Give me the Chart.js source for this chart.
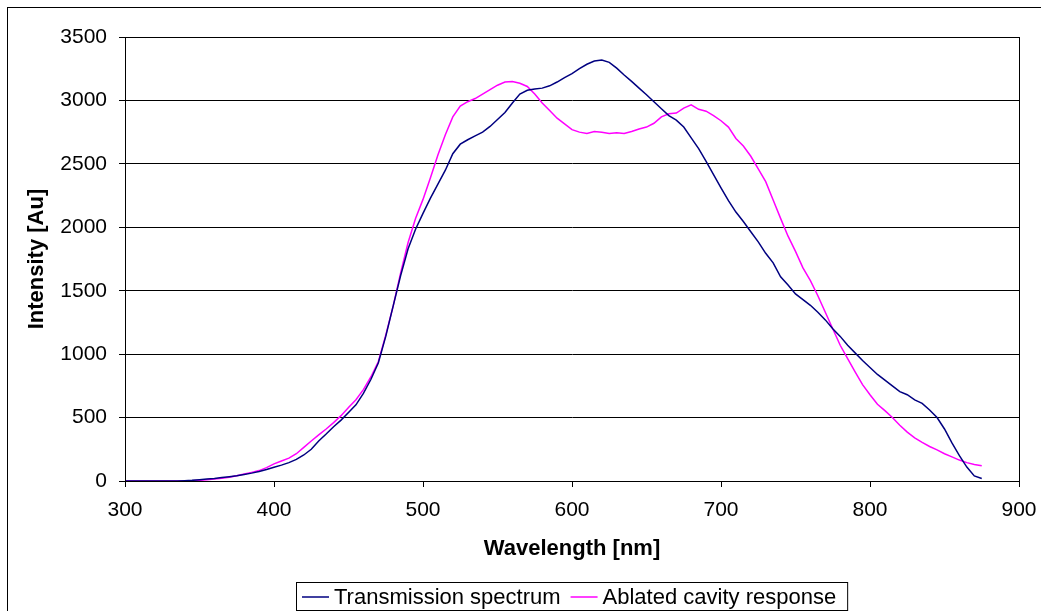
<!DOCTYPE html>
<html>
<head>
<meta charset="utf-8">
<script src="https://cdn.jsdelivr.net/npm/chart.js@4/dist/chart.umd.min.js"></script>
<style>
  html, body { margin: 0; padding: 0; background: #fff; }
  #wrap { width: 1041px; height: 611px; }
</style>
</head>
<body>
<div id="wrap"><canvas id="spectrum" width="1041" height="611"></canvas></div>
<script>
// Wavelength samples in nm
const wavelengths = [
  300,305,310,315,320,325,330,335,340,345,350,355,360,365,370,375,380,385,390,395,
  400,405,410,415,420,425,430,435,440,445,450,455,460,465,470,475,480,485,490,495,
  500,505,510,515,520,525,530,535,540,545,550,555,560,565,570,575,580,585,590,595,
  600,605,610,615,620,625,630,635,640,645,650,655,660,665,670,675,680,685,690,695,
  700,705,710,715,720,725,730,735,740,745,750,755,760,765,770,775,780,785,790,795,
  800,805,810,815,820,825,830,835,840,845,850,855,860,865,870,875
];

// Transmission spectrum intensity [Au]
const transmission = [
  0,0,0,0,0,0,0,0,2,5,10,15,20,27,34,42,52,62,75,90,
  108,125,145,170,205,250,315,370,428,480,540,600,690,800,930,1140,1380,1620,1830,1985,
  2110,2230,2340,2450,2580,2655,2690,2720,2750,2795,2850,2905,2980,3050,3080,3090,3097,3115,3145,3180,
  3212,3250,3285,3310,3318,3300,3255,3200,3150,3097,3045,2990,2935,2880,2845,2790,2705,2620,2520,2415,
  2310,2210,2120,2045,1965,1885,1795,1720,1610,1545,1475,1430,1385,1330,1270,1200,1140,1070,1010,950,
  895,840,795,750,705,680,640,612,560,500,410,300,200,110,40,20
];

// Ablated cavity response intensity [Au]
const ablated = [
  0,0,0,0,0,0,0,0,0,2,5,10,15,22,29,42,55,68,82,105,
  135,158,180,215,265,315,363,410,460,515,580,640,720,820,940,1150,1380,1640,1880,2070,
  2220,2390,2570,2730,2870,2955,2990,3015,3050,3085,3120,3145,3150,3135,3110,3050,2980,2920,2860,2815,
  2770,2750,2740,2755,2750,2740,2745,2740,2755,2775,2790,2820,2870,2895,2900,2940,2965,2930,2915,2880,
  2840,2790,2700,2640,2560,2460,2360,2215,2070,1930,1810,1680,1580,1460,1330,1200,1070,965,860,760,
  680,605,555,500,440,385,340,305,272,245,215,190,165,145,130,120
];

const xTicks = [300, 400, 500, 600, 700, 800, 900];
const yTicks = [0, 500, 1000, 1500, 2000, 2500, 3000, 3500];

const seriesNames = ['Transmission spectrum', 'Ablated cavity response'];
const seriesColors = ['#000080', '#FF00FF'];

const FONT = "'Liberation Sans', Arial, sans-serif";

function toPoints(xs, ys) {
  return xs.map((x, i) => ({ x: x, y: ys[i] }));
}

// White page, outer frame and plot-area frame
const framePlugin = {
  id: 'frame',
  beforeDraw(chart) {
    const ctx = chart.ctx;
    ctx.save();
    ctx.fillStyle = '#fff';
    ctx.fillRect(0, 0, chart.width, chart.height);
    ctx.restore();
  },
  afterDraw(chart) {
    const ctx = chart.ctx;
    const a = chart.chartArea;
    ctx.save();
    ctx.strokeStyle = '#000';
    ctx.lineWidth = 1;
    // outer chart border (runs off the right and bottom edges)
    ctx.strokeRect(7.5, 7.5, chart.width + 10, chart.height + 10);
    // plot area border
    ctx.strokeRect(Math.round(a.left) + 0.5, Math.round(a.top) + 0.5,
                   Math.round(a.right - a.left), Math.round(a.bottom - a.top));
    ctx.restore();
  }
};

// Boxed legend centred under the plot area
const boxLegendPlugin = {
  id: 'boxLegend',
  afterDraw(chart) {
    const ctx = chart.ctx;
    const a = chart.chartArea;
    ctx.save();
    ctx.font = '22px ' + FONT;
    const sample = 27;
    const items = chart.data.datasets.map(ds => ({
      label: ds.label, color: ds.borderColor, w: ctx.measureText(ds.label).width
    }));
    const padL = 6, gapLine = 5, gapItem = 10, padR = 11;
    let total = padL + padR;
    items.forEach((it, i) => {
      total += sample + gapLine + it.w + (i < items.length - 1 ? gapItem : 0);
    });
    const cx = (a.left + a.right) / 2;
    const left = Math.round(cx - total / 2);
    const top = 582, bottom = 610;
    const midY = 597;
    ctx.fillStyle = '#fff';
    ctx.fillRect(left, top, total, bottom - top);
    ctx.strokeStyle = '#000';
    ctx.lineWidth = 1;
    ctx.strokeRect(left + 0.5, top + 0.5, total, bottom - top);
    let x = left + padL;
    ctx.textBaseline = 'middle';
    ctx.textAlign = 'left';
    items.forEach((it, i) => {
      ctx.strokeStyle = it.color;
      ctx.lineWidth = 1.5;
      ctx.beginPath();
      ctx.moveTo(x, midY);
      ctx.lineTo(x + sample, midY);
      ctx.stroke();
      x += sample + gapLine;
      ctx.fillStyle = '#000';
      ctx.fillText(it.label, x, midY + 1);
      x += it.w + gapItem;
    });
    ctx.restore();
  }
};

new Chart(document.getElementById('spectrum'), {
  type: 'line',
  data: {
    datasets: [
      {
        label: seriesNames[0],
        data: toPoints(wavelengths, transmission),
        borderColor: seriesColors[0],
        borderWidth: 1.5,
        pointRadius: 0,
        tension: 0,
        fill: false
      },
      {
        label: seriesNames[1],
        data: toPoints(wavelengths, ablated),
        borderColor: seriesColors[1],
        borderWidth: 1.5,
        pointRadius: 0,
        tension: 0,
        fill: false
      }
    ]
  },
  options: {
    responsive: false,
    animation: false,
    devicePixelRatio: 1,
    layout: { padding: { left: 0, top: 37, right: 22, bottom: 0 } },
    plugins: {
      legend: { display: false },
      tooltip: { enabled: false }
    },
    scales: {
      x: {
        type: 'linear',
        min: xTicks[0],
        max: xTicks[xTicks.length - 1],
        afterBuildTicks(scale) { scale.ticks = xTicks.map(v => ({ value: v })); },
        afterFit(scale) {
          scale.height = 130;
          scale.paddingLeft = 0;
          scale.paddingRight = 0;
        },
        ticks: {
          color: '#000',
          font: { family: FONT, size: 21 },
          padding: 11,
          maxRotation: 0,
          autoSkip: false,
          callback: v => String(v)
        },
        grid: {
          drawOnChartArea: false,
          drawTicks: true,
          tickLength: 6,
          color: '#000'
        },
        border: { color: '#000', width: 1 },
        title: {
          display: true,
          text: 'Wavelength [nm]',
          color: '#000',
          font: { family: FONT, size: 22, weight: 'bold' },
          padding: { top: 0, bottom: 49 }
        }
      },
      y: {
        type: 'linear',
        min: yTicks[0],
        max: yTicks[yTicks.length - 1],
        afterBuildTicks(scale) { scale.ticks = yTicks.map(v => ({ value: v })); },
        afterFit(scale) {
          scale.width = 125;
          scale.paddingTop = 0;
          scale.paddingBottom = 0;
        },
        ticks: {
          color: '#000',
          font: { family: FONT, size: 21 },
          padding: 12,
          autoSkip: false,
          callback: v => String(v)
        },
        grid: {
          drawOnChartArea: true,
          drawTicks: true,
          tickLength: 6,
          color: '#000',
          lineWidth: 1
        },
        border: { color: '#000', width: 1 },
        title: {
          display: true,
          text: 'Intensity [Au]',
          color: '#000',
          font: { family: FONT, size: 22, weight: 'bold' },
          padding: { top: 24, bottom: 0 }
        }
      }
    }
  },
  plugins: [framePlugin, boxLegendPlugin]
});
</script>
</body>
</html>
